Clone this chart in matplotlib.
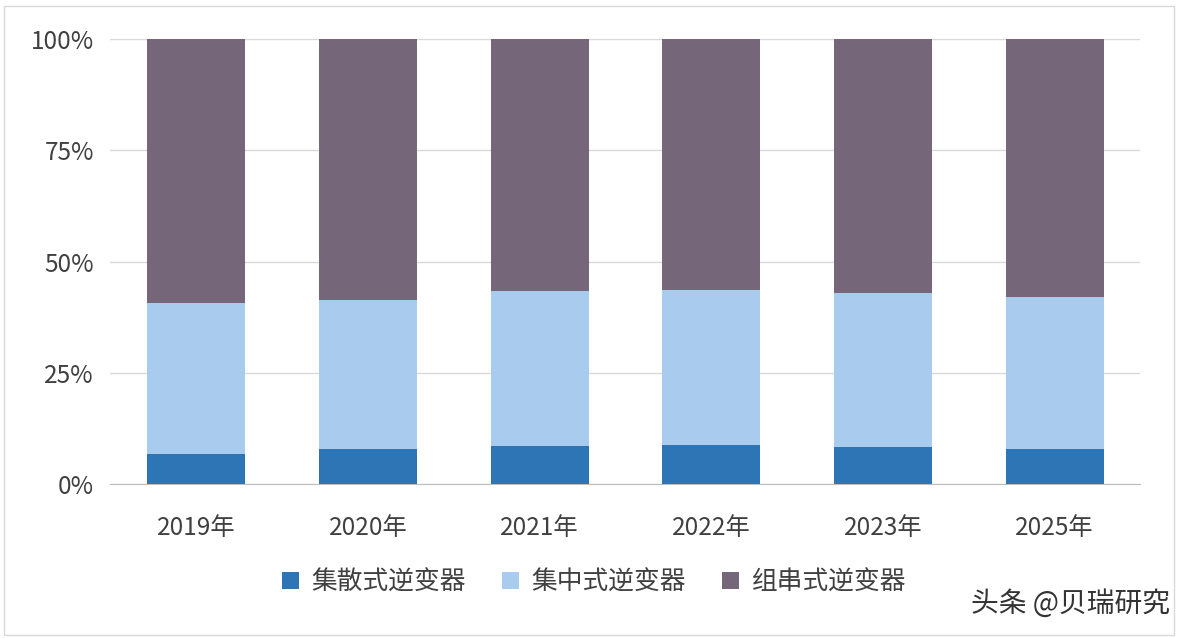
import matplotlib
matplotlib.use("Agg")
import matplotlib.pyplot as plt
from matplotlib import font_manager
from matplotlib.ticker import FuncFormatter

cands = ["Noto Sans CJK SC", "Noto Sans CJK JP", "Noto Sans CJK TC", "Noto Sans CJK KR"]
names = {f.name for f in font_manager.fontManager.ttflist}
chosen = [c for c in cands if c in names]
if not chosen:
    for f in font_manager.findSystemFonts():
        if "CJK" in f:
            font_manager.fontManager.addfont(f)
    names = {f.name for f in font_manager.fontManager.ttflist}
    chosen = [n for n in names if "CJK" in n]
plt.rcParams["font.family"] = "sans-serif"
plt.rcParams["font.sans-serif"] = chosen + ["DejaVu Sans"]

years = ["2019年", "2020年", "2021年", "2022年", "2023年", "2025年"]
distributed = [6.7, 7.9, 8.5, 8.8, 8.3, 7.9]
central = [34.0, 33.4, 34.9, 34.8, 34.6, 34.1]
string = [100 - d - c for d, c in zip(distributed, central)]
series_names = ["集散式逆变器", "集中式逆变器", "组串式逆变器"]
colors = ["#2E75B6", "#A9CBEE", "#75667A"]

fig = plt.figure(figsize=(11.88, 6.38), dpi=100)
ax = fig.add_axes([0.093, 0.241, 0.867, 0.698])
x = range(len(years))
bottom = [0] * len(years)
for vals, name, col in zip([distributed, central, string], series_names, colors):
    ax.bar(x, vals, bottom=bottom, width=0.57, color=col, label=name, zorder=3)
    bottom = [b + v for b, v in zip(bottom, vals)]

ax.set_ylim(0, 100)
ax.set_xlim(-0.5, len(years) - 0.5)
ax.set_yticks([0, 25, 50, 75, 100])
ax.yaxis.set_major_formatter(FuncFormatter(lambda v, p: f"{int(v)}%"))
ax.set_xticks(list(x))
ax.set_xticklabels(years)
ax.grid(axis="y", color="#D9D9D9", linewidth=1, zorder=0)
for s in ["top", "right", "left"]:
    ax.spines[s].set_visible(False)
ax.spines["bottom"].set_color("#BFBFBF")
ax.tick_params(axis="both", length=0, labelsize=17.5, colors="#404040", pad=12)
ax.tick_params(axis="x", pad=22)

fig.legend(loc="lower center", bbox_to_anchor=(0.5, 0.03), ncol=3, frameon=False,
           fontsize=18.5, handlelength=0.65, handleheight=0.65, handletextpad=0.5,
           columnspacing=1.4, labelcolor="#404040")
fig.text(0.985, 0.03, "头条 @贝瑞研究", ha="right", va="bottom", fontsize=20, color="#333333")
fig.patches.append(plt.Rectangle((0.003, 0.005), 0.985, 0.985, transform=fig.transFigure,
                                 fill=False, edgecolor="#D9D9D9", linewidth=1))
fig.savefig("out.png", dpi=100)
